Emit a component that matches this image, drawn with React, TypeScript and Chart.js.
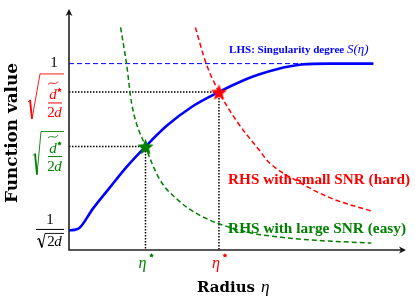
import React, { useEffect, useRef } from 'react';
import { Chart, registerables } from 'chart.js';

Chart.register(...registerables);

const BLUE = '#0000ff';
const RED = '#ff0000';
const GREEN = '#008000';
const SERIF = '"Liberation Serif", "DejaVu Serif", serif';
const WIDE_SERIF = '"DejaVu Serif", "Liberation Serif", serif';

// Left-hand side: singularity degree S(eta)
const lhsX = [0, 0.015, 0.032, 0.071, 0.121, 0.171, 0.227, 0.289, 0.366, 0.445, 0.525, 0.563, 0.614, 0.69, 0.77, 0.903];
const lhsY = [0.105, 0.108, 0.12, 0.222, 0.335, 0.446, 0.555, 0.665, 0.77, 0.848, 0.916, 0.942, 0.969, 0.995, 1.0, 1.0];

// RHS with large SNR (easy)
const easyX = [0.153, 0.171, 0.186, 0.227, 0.268, 0.327, 0.386, 0.445, 0.534, 0.631, 0.732, 0.897];
const easyY = [1.194, 0.995, 0.785, 0.555, 0.382, 0.262, 0.188, 0.141, 0.094, 0.068, 0.052, 0.037];

// RHS with small SNR (hard)
const hardX = [0.375, 0.407, 0.445, 0.496, 0.563, 0.593, 0.681, 0.779, 0.897];
const hardY = [1.194, 1.0, 0.848, 0.696, 0.539, 0.471, 0.366, 0.277, 0.209];

// Asymptote level and y-axis start value
const oneLevel = 1;
const lowLevel = 0.105;
const dashedEndX = 0.903;

// Intersections (eta*, value)
const easyStar = { x: 0.227, y: 0.555 };
const hardStar = { x: 0.445, y: 0.848 };

const xMax = 1;
const yMax = 1.293;

const zip = (xs: number[], ys: number[]) => xs.map((x, i) => ({ x, y: ys[i] }));

function starPath(g: CanvasRenderingContext2D, cx: number, cy: number, R: number, ratio: number) {
  const r = R * ratio;
  g.beginPath();
  for (let i = 0; i < 10; i++) {
    const a = -Math.PI / 2 + (i * Math.PI) / 5;
    const rad = i % 2 ? r : R;
    const px = cx + rad * Math.cos(a);
    const py = cy + rad * Math.sin(a);
    if (i === 0) g.moveTo(px, py);
    else g.lineTo(px, py);
  }
  g.closePath();
}

function makeStar(color: string, size: number) {
  const c = document.createElement('canvas');
  c.width = size;
  c.height = size;
  const g = c.getContext('2d')!;
  const R = size / 2;
  starPath(g, R, R + 0.8, R, 0.45);
  g.fillStyle = color;
  g.fill();
  return c;
}

function smallStar(ctx: CanvasRenderingContext2D, cx: number, cy: number, R: number) {
  starPath(ctx, cx, cy, R, 0.5);
  ctx.fill();
}

function drawTilde(ctx: CanvasRenderingContext2D, x0: number, x1: number, y: number) {
  const w = x1 - x0;
  ctx.beginPath();
  ctx.moveTo(x0, y + 1.5);
  ctx.bezierCurveTo(x0 + w * 0.3, y - 2.5, x0 + w * 0.7, y + 3.5, x1, y - 1.5);
  ctx.lineWidth = 0.9;
  ctx.stroke();
}

type Rad = { top: number; bot: number; left: number; botX: number; topX: number };

function drawSqrtDFrac(ctx: CanvasRenderingContext2D, xR: number, barY: number, color: string, r: Rad) {
  ctx.save();
  ctx.strokeStyle = color;
  ctx.fillStyle = color;
  const top = barY + r.top;
  const bot = barY + r.bot;
  const tickY = barY - 3;
  ctx.lineJoin = 'miter';
  ctx.lineWidth = 0.9;
  ctx.beginPath();
  ctx.moveTo(xR + r.left, tickY + 2);
  ctx.lineTo(xR + r.left + 2, tickY);
  ctx.stroke();
  ctx.lineWidth = 1.8;
  ctx.beginPath();
  ctx.moveTo(xR + r.left + 2, tickY);
  ctx.lineTo(xR + r.botX, bot);
  ctx.stroke();
  ctx.lineWidth = 0.9;
  ctx.beginPath();
  ctx.moveTo(xR + r.botX, bot);
  ctx.lineTo(xR + r.topX, top);
  ctx.lineTo(xR, top);
  ctx.stroke();
  ctx.fillRect(xR - 16, barY - 0.5, 14, 1);
  ctx.textAlign = 'center';
  ctx.textBaseline = 'alphabetic';
  ctx.font = `italic 15px ${SERIF}`;
  ctx.fillText('d', xR - 11, barY - 4);
  drawTilde(ctx, xR - 16, xR - 6, barY - 20);
  smallStar(ctx, xR - 4.5, barY - 13, 2.4);
  ctx.font = `15px ${SERIF}`;
  ctx.fillText('2', xR - 13, barY + 14);
  ctx.font = `italic 15px ${SERIF}`;
  ctx.fillText('d', xR - 6, barY + 14);
  ctx.restore();
}

function drawInvSqrt(ctx: CanvasRenderingContext2D, xR: number, barY: number) {
  ctx.save();
  ctx.strokeStyle = '#000';
  ctx.fillStyle = '#000';
  ctx.textAlign = 'center';
  ctx.textBaseline = 'alphabetic';
  ctx.font = `15px ${SERIF}`;
  ctx.fillText('1', xR - 14, barY - 5);
  ctx.fillRect(xR - 28, barY - 0.5, 28, 1);
  ctx.lineWidth = 0.9;
  ctx.beginPath();
  ctx.moveTo(xR - 27, barY + 10);
  ctx.lineTo(xR - 25, barY + 9);
  ctx.stroke();
  ctx.lineWidth = 1.6;
  ctx.beginPath();
  ctx.moveTo(xR - 25, barY + 9);
  ctx.lineTo(xR - 22, barY + 18);
  ctx.stroke();
  ctx.lineWidth = 0.9;
  ctx.beginPath();
  ctx.moveTo(xR - 22, barY + 18);
  ctx.lineTo(xR - 19, barY + 4);
  ctx.lineTo(xR, barY + 4);
  ctx.stroke();
  ctx.fillText('2', xR - 13, barY + 17);
  ctx.font = `italic 15px ${SERIF}`;
  ctx.fillText('d', xR - 6, barY + 17);
  ctx.restore();
}

function drawEtaStar(ctx: CanvasRenderingContext2D, cx: number, baseY: number, color: string) {
  ctx.save();
  ctx.fillStyle = color;
  ctx.textAlign = 'center';
  ctx.textBaseline = 'alphabetic';
  ctx.font = `italic 16px ${SERIF}`;
  ctx.fillText('η', cx - 3, baseY);
  smallStar(ctx, cx + 6, baseY - 12.5, 2.6);
  ctx.restore();
}

function arrowHead(ctx: CanvasRenderingContext2D, x: number, y: number, dir: 'right' | 'up') {
  ctx.beginPath();
  if (dir === 'right') {
    ctx.moveTo(x, y);
    ctx.lineTo(x - 7, y - 3.5);
    ctx.lineTo(x - 5, y);
    ctx.lineTo(x - 7, y + 3.5);
  } else {
    ctx.moveTo(x, y);
    ctx.lineTo(x - 3.5, y + 7);
    ctx.lineTo(x, y + 5);
    ctx.lineTo(x + 3.5, y + 7);
  }
  ctx.closePath();
  ctx.fill();
}

function fitFont(ctx: CanvasRenderingContext2D, text: string, style: string, family: string, width: number) {
  ctx.font = `${style} 10px ${family}`;
  const w = ctx.measureText(text).width;
  const size = (10 * width) / w;
  ctx.font = `${style} ${size.toFixed(2)}px ${family}`;
  return size;
}

const decorPlugin = {
  id: 'decor',
  afterDraw(chart: any) {
    const { ctx } = chart;
    const xs = chart.scales.x;
    const ys = chart.scales.y;
    const x0 = xs.getPixelForValue(0);
    const x1 = xs.getPixelForValue(xMax);
    const y0 = ys.getPixelForValue(0);
    const y1 = ys.getPixelForValue(yMax);
    ctx.save();
    // axes
    ctx.strokeStyle = '#222';
    ctx.fillStyle = '#111';
    ctx.lineWidth = 1.6;
    ctx.beginPath();
    ctx.moveTo(x0 - 0.8, y0);
    ctx.lineTo(x1 - 4, y0);
    ctx.moveTo(x0, y0 + 0.8);
    ctx.lineTo(x0, y1 + 4);
    ctx.stroke();
    arrowHead(ctx, x1, y0, 'right');
    arrowHead(ctx, x0, y1, 'up');

    // y tick labels
    ctx.textAlign = 'center';
    ctx.textBaseline = 'middle';
    ctx.fillStyle = '#000';
    ctx.font = `15px ${SERIF}`;
    ctx.fillText('1', x0 - 15, ys.getPixelForValue(oneLevel) - 1);
    drawSqrtDFrac(ctx, x0 - 5, ys.getPixelForValue(hardStar.y) + 11, RED, {
      top: -29, bot: 16, left: -36, botX: -32, topX: -24,
    });
    drawSqrtDFrac(ctx, x0 - 5, ys.getPixelForValue(easyStar.y) + 10, GREEN, {
      top: -25, bot: 18, left: -31, botX: -27, topX: -23,
    });
    drawInvSqrt(ctx, x0 - 5, ys.getPixelForValue(lowLevel) - 1);

    // x tick labels
    drawEtaStar(ctx, xs.getPixelForValue(easyStar.x), y0 + 18, GREEN);
    drawEtaStar(ctx, xs.getPixelForValue(hardStar.x), y0 + 18, RED);

    // axis titles
    ctx.fillStyle = '#000';
    ctx.textBaseline = 'alphabetic';
    ctx.save();
    ctx.translate(17, 133);
    ctx.rotate(-Math.PI / 2);
    ctx.textAlign = 'center';
    fitFont(ctx, 'Function value', 'bold', WIDE_SERIF, 140);
    ctx.fillText('Function value', 0, 0);
    ctx.restore();

    const rSize = fitFont(ctx, 'Radius', 'bold', WIDE_SERIF, 58);
    const wR = ctx.measureText('Radius').width;
    ctx.textAlign = 'left';
    ctx.fillText('Radius', 197, 292);
    ctx.font = `italic ${(rSize * 1.15).toFixed(1)}px ${SERIF}`;
    ctx.fillText('η', 197 + wR + 6, 292);

    // annotations
    ctx.textBaseline = 'middle';
    const lx = xs.getPixelForValue(0.475);
    ctx.fillStyle = BLUE;
    const lhs = 'LHS: Singularity degree ';
    fitFont(ctx, lhs, 'bold', SERIF, 118);
    ctx.fillText(lhs, lx, ys.getPixelForValue(1.073));
    const wl = ctx.measureText(lhs).width;
    ctx.font = `italic 13px ${SERIF}`;
    ctx.fillText('S(η)', lx + wl, ys.getPixelForValue(1.073));

    ctx.fillStyle = RED;
    fitFont(ctx, 'RHS with small SNR (hard)', 'bold', SERIF, 182);
    ctx.fillText('RHS with small SNR (hard)', xs.getPixelForValue(0.472), ys.getPixelForValue(0.377));
    ctx.fillStyle = GREEN;
    fitFont(ctx, 'RHS with large SNR (easy)', 'bold', SERIF, 178);
    ctx.fillText('RHS with large SNR (easy)', xs.getPixelForValue(0.472), ys.getPixelForValue(0.115));
    ctx.restore();
  },
};

export default function App() {
  const ref = useRef<HTMLCanvasElement | null>(null);
  useEffect(() => {
    if (!ref.current) return;
    const redStarImg = makeStar(RED, 17);
    const greenStarImg = makeStar(GREEN, 17);
    const chart = new Chart(ref.current, {
      type: 'scatter',
      data: {
        datasets: [
          {
            label: 'hard star',
            data: [hardStar],
            pointStyle: redStarImg as any,
            pointRadius: 8,
            order: 0,
          },
          {
            label: 'easy star',
            data: [easyStar],
            pointStyle: greenStarImg as any,
            pointRadius: 8,
            order: 0,
          },
          {
            label: 'LHS',
            data: zip(lhsX, lhsY),
            showLine: true,
            borderColor: BLUE,
            borderWidth: 2.6,
            pointRadius: 0,
            cubicInterpolationMode: 'monotone',
            order: 2,
          },
          {
            label: 'hard',
            data: zip(hardX, hardY),
            showLine: true,
            borderColor: RED,
            borderWidth: 1.5,
            borderDash: [5, 3],
            pointRadius: 0,
            cubicInterpolationMode: 'monotone',
            order: 3,
          },
          {
            label: 'easy',
            data: zip(easyX, easyY),
            showLine: true,
            borderColor: GREEN,
            borderWidth: 1.5,
            borderDash: [5, 3],
            pointRadius: 0,
            cubicInterpolationMode: 'monotone',
            order: 3,
          },
          {
            label: 'one',
            data: [
              { x: 0, y: oneLevel },
              { x: dashedEndX, y: oneLevel },
            ],
            showLine: true,
            borderColor: BLUE,
            borderWidth: 1,
            borderDash: [5, 3],
            pointRadius: 0,
            order: 4,
          },
          {
            label: 'hard guide',
            data: [
              { x: 0, y: hardStar.y },
              { x: hardStar.x, y: hardStar.y },
              { x: hardStar.x, y: 0 },
            ],
            showLine: true,
            borderColor: '#000',
            borderWidth: 1.5,
            borderDash: [1.5, 1.5],
            pointRadius: 0,
            order: 5,
          },
          {
            label: 'easy guide',
            data: [
              { x: 0, y: easyStar.y },
              { x: easyStar.x, y: easyStar.y },
              { x: easyStar.x, y: 0 },
            ],
            showLine: true,
            borderColor: '#000',
            borderWidth: 1.5,
            borderDash: [1.5, 1.5],
            pointRadius: 0,
            order: 5,
          },
        ],
      },
      options: {
        animation: false,
        responsive: false,
        maintainAspectRatio: false,
        layout: { padding: { left: 69, right: 7, top: 3, bottom: 50 } },
        plugins: { legend: { display: false }, tooltip: { enabled: false } },
        elements: { line: { borderCapStyle: 'butt' } },
        scales: {
          x: { type: 'linear', min: 0, max: xMax, display: false },
          y: { type: 'linear', min: 0, max: yMax, display: false },
        },
        datasets: { scatter: { clip: false } } as any,
      },
      plugins: [decorPlugin],
    });
    return () => chart.destroy();
  }, []);
  return (
    <div style={{ position: 'fixed', left: 0, top: 0, width: 415, height: 300, background: '#fff' }}>
      <canvas ref={ref} width={415} height={300} style={{ display: 'block', width: 415, height: 300 }} />
    </div>
  );
}
